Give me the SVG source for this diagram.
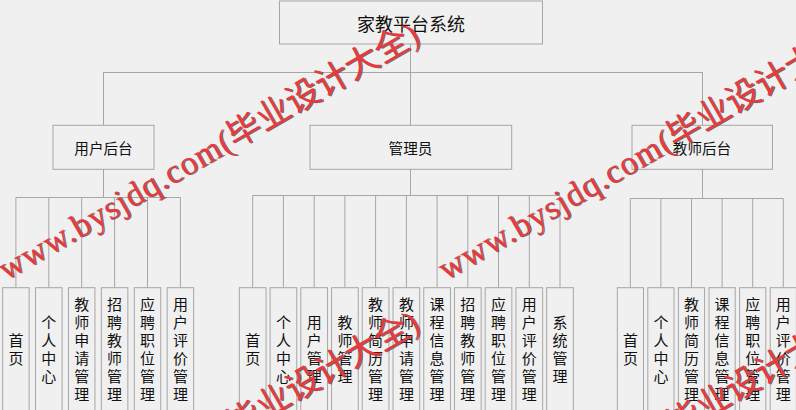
<svg xmlns="http://www.w3.org/2000/svg" xmlns:xlink="http://www.w3.org/1999/xlink" width="796" height="410" viewBox="0 0 796 410">
<style>
.box{fill:#f0f0f0;stroke:#a6a6a6;stroke-width:1}
.ln{fill:none;stroke:#a6a6a6;stroke-width:1}
.t{font-family:"Microsoft YaHei","Noto Sans CJK SC",sans-serif;fill:#111;text-anchor:middle;dominant-baseline:central}
.t18{font-size:18px}
.t15{font-size:14.6px}
.lv{font-size:15px}
.wm{font-family:"Liberation Serif","Noto Sans CJK SC",serif;font-size:34px}
.wl{letter-spacing:1.1px}
.wmr{fill:#e63a3d}
.wms{fill:#5a3a3a;opacity:0.8}
</style>
<defs>
<g id="wm">
<text class="wm wms" x="1" y="1"><tspan class="wl">www.bysjdq.com</tspan>(毕业设计大全)</text>
<text class="wm wmr" x="0" y="0"><tspan class="wl">www.bysjdq.com</tspan>(毕业设计大全)</text>
</g>
</defs>
<rect x="0" y="0" width="796" height="410" fill="#f0f0f0"/>

<g id="connectors">
<path class="ln" d="M410.5 44 V125 M103.5 72.5 H702.5 M103.5 72 V125 M702.5 72 V125"/>
<path class="ln" d="M103.5 169 V197.5 M15.9 197.5 H180.4 M15.9 197.5 V287.7 M48.8 197.5 V287.7 M81.7 197.5 V287.7 M114.6 197.5 V287.7 M147.5 197.5 V287.7 M180.4 197.5 V287.7"/>
<path class="ln" d="M410.5 169 V195.5 M252.7 195.5 H560 M252.7 195.5 V287.7 M283.4 195.5 V287.7 M314.2 195.5 V287.7 M344.9 195.5 V287.7 M375.6 195.5 V287.7 M406.4 195.5 V287.7 M437.1 195.5 V287.7 M467.8 195.5 V287.7 M498.5 195.5 V287.7 M529.3 195.5 V287.7 M560 195.5 V287.7"/>
<path class="ln" d="M702.5 169 V198.5 M630.3 198.5 H783.3 M630.3 198.5 V287.7 M660.9 198.5 V287.7 M691.5 198.5 V287.7 M722.1 198.5 V287.7 M752.7 198.5 V287.7 M783.3 198.5 V287.7"/>
</g>

<g id="root"><rect class="box" x="279.5" y="1" width="263" height="43"/><text class="t t18" x="411" y="22.5">家教平台系统</text></g>
<g id="user"><rect class="box" x="53" y="125.3" width="101" height="44"/><text class="t t15" x="103.5" y="147">用户后台</text></g>
<g id="admin"><rect class="box" x="310" y="125.3" width="201.7" height="44"/><text class="t t15" x="410.5" y="147">管理员</text></g>
<g id="teacher"><rect class="box" x="632" y="125.3" width="140.5" height="44"/><text class="t t15" x="702" y="147">教师后台</text></g>

<g id="u1"><rect class="box" x="2.65" y="287.7" width="26.5" height="130"/><text class="t lv"><tspan x="15.9" y="339.05">首</tspan><tspan x="15.9" y="356.95">页</tspan></text></g>
<g id="u2"><rect class="box" x="35.55" y="287.7" width="26.5" height="130"/><text class="t lv"><tspan x="48.8" y="321.15">个</tspan><tspan x="48.8" y="339.05">人</tspan><tspan x="48.8" y="356.95">中</tspan><tspan x="48.8" y="374.85">心</tspan></text></g>
<g id="u3"><rect class="box" x="68.45" y="287.7" width="26.5" height="130"/><text class="t lv"><tspan x="81.7" y="303.25">教</tspan><tspan x="81.7" y="321.15">师</tspan><tspan x="81.7" y="339.05">申</tspan><tspan x="81.7" y="356.95">请</tspan><tspan x="81.7" y="374.85">管</tspan><tspan x="81.7" y="392.75">理</tspan></text></g>
<g id="u4"><rect class="box" x="101.35" y="287.7" width="26.5" height="130"/><text class="t lv"><tspan x="114.6" y="303.25">招</tspan><tspan x="114.6" y="321.15">聘</tspan><tspan x="114.6" y="339.05">教</tspan><tspan x="114.6" y="356.95">师</tspan><tspan x="114.6" y="374.85">管</tspan><tspan x="114.6" y="392.75">理</tspan></text></g>
<g id="u5"><rect class="box" x="134.25" y="287.7" width="26.5" height="130"/><text class="t lv"><tspan x="147.5" y="303.25">应</tspan><tspan x="147.5" y="321.15">聘</tspan><tspan x="147.5" y="339.05">职</tspan><tspan x="147.5" y="356.95">位</tspan><tspan x="147.5" y="374.85">管</tspan><tspan x="147.5" y="392.75">理</tspan></text></g>
<g id="u6"><rect class="box" x="167.15" y="287.7" width="26.5" height="130"/><text class="t lv"><tspan x="180.4" y="303.25">用</tspan><tspan x="180.4" y="321.15">户</tspan><tspan x="180.4" y="339.05">评</tspan><tspan x="180.4" y="356.95">价</tspan><tspan x="180.4" y="374.85">管</tspan><tspan x="180.4" y="392.75">理</tspan></text></g>

<g id="a1"><rect class="box" x="239.35" y="287.7" width="26.7" height="130"/><text class="t lv"><tspan x="252.7" y="339.05">首</tspan><tspan x="252.7" y="356.95">页</tspan></text></g>
<g id="a2"><rect class="box" x="270.05" y="287.7" width="26.7" height="130"/><text class="t lv"><tspan x="283.4" y="321.15">个</tspan><tspan x="283.4" y="339.05">人</tspan><tspan x="283.4" y="356.95">中</tspan><tspan x="283.4" y="374.85">心</tspan></text></g>
<g id="a3"><rect class="box" x="300.85" y="287.7" width="26.7" height="130"/><text class="t lv"><tspan x="314.2" y="321.15">用</tspan><tspan x="314.2" y="339.05">户</tspan><tspan x="314.2" y="356.95">管</tspan><tspan x="314.2" y="374.85">理</tspan></text></g>
<g id="a4"><rect class="box" x="331.55" y="287.7" width="26.7" height="130"/><text class="t lv"><tspan x="344.9" y="321.15">教</tspan><tspan x="344.9" y="339.05">师</tspan><tspan x="344.9" y="356.95">管</tspan><tspan x="344.9" y="374.85">理</tspan></text></g>
<g id="a5"><rect class="box" x="362.25" y="287.7" width="26.7" height="130"/><text class="t lv"><tspan x="375.6" y="303.25">教</tspan><tspan x="375.6" y="321.15">师</tspan><tspan x="375.6" y="339.05">简</tspan><tspan x="375.6" y="356.95">历</tspan><tspan x="375.6" y="374.85">管</tspan><tspan x="375.6" y="392.75">理</tspan></text></g>
<g id="a6"><rect class="box" x="393.05" y="287.7" width="26.7" height="130"/><text class="t lv"><tspan x="406.4" y="303.25">教</tspan><tspan x="406.4" y="321.15">师</tspan><tspan x="406.4" y="339.05">申</tspan><tspan x="406.4" y="356.95">请</tspan><tspan x="406.4" y="374.85">管</tspan><tspan x="406.4" y="392.75">理</tspan></text></g>
<g id="a7"><rect class="box" x="423.75" y="287.7" width="26.7" height="130"/><text class="t lv"><tspan x="437.1" y="303.25">课</tspan><tspan x="437.1" y="321.15">程</tspan><tspan x="437.1" y="339.05">信</tspan><tspan x="437.1" y="356.95">息</tspan><tspan x="437.1" y="374.85">管</tspan><tspan x="437.1" y="392.75">理</tspan></text></g>
<g id="a8"><rect class="box" x="454.45" y="287.7" width="26.7" height="130"/><text class="t lv"><tspan x="467.8" y="303.25">招</tspan><tspan x="467.8" y="321.15">聘</tspan><tspan x="467.8" y="339.05">教</tspan><tspan x="467.8" y="356.95">师</tspan><tspan x="467.8" y="374.85">管</tspan><tspan x="467.8" y="392.75">理</tspan></text></g>
<g id="a9"><rect class="box" x="485.15" y="287.7" width="26.7" height="130"/><text class="t lv"><tspan x="498.5" y="303.25">应</tspan><tspan x="498.5" y="321.15">聘</tspan><tspan x="498.5" y="339.05">职</tspan><tspan x="498.5" y="356.95">位</tspan><tspan x="498.5" y="374.85">管</tspan><tspan x="498.5" y="392.75">理</tspan></text></g>
<g id="a10"><rect class="box" x="515.95" y="287.7" width="26.7" height="130"/><text class="t lv"><tspan x="529.3" y="303.25">用</tspan><tspan x="529.3" y="321.15">户</tspan><tspan x="529.3" y="339.05">评</tspan><tspan x="529.3" y="356.95">价</tspan><tspan x="529.3" y="374.85">管</tspan><tspan x="529.3" y="392.75">理</tspan></text></g>
<g id="a11"><rect class="box" x="546.65" y="287.7" width="26.7" height="130"/><text class="t lv"><tspan x="560" y="321.15">系</tspan><tspan x="560" y="339.05">统</tspan><tspan x="560" y="356.95">管</tspan><tspan x="560" y="374.85">理</tspan></text></g>

<g id="t1"><rect class="box" x="617.3" y="287.7" width="26.2" height="130"/><text class="t lv"><tspan x="630.4" y="339.05">首</tspan><tspan x="630.4" y="356.95">页</tspan></text></g>
<g id="t2"><rect class="box" x="647.8" y="287.7" width="26.2" height="130"/><text class="t lv"><tspan x="660.9" y="321.15">个</tspan><tspan x="660.9" y="339.05">人</tspan><tspan x="660.9" y="356.95">中</tspan><tspan x="660.9" y="374.85">心</tspan></text></g>
<g id="t3"><rect class="box" x="678.4" y="287.7" width="26.2" height="130"/><text class="t lv"><tspan x="691.5" y="303.25">教</tspan><tspan x="691.5" y="321.15">师</tspan><tspan x="691.5" y="339.05">简</tspan><tspan x="691.5" y="356.95">历</tspan><tspan x="691.5" y="374.85">管</tspan><tspan x="691.5" y="392.75">理</tspan></text></g>
<g id="t4"><rect class="box" x="709" y="287.7" width="26.2" height="130"/><text class="t lv"><tspan x="722.1" y="303.25">课</tspan><tspan x="722.1" y="321.15">程</tspan><tspan x="722.1" y="339.05">信</tspan><tspan x="722.1" y="356.95">息</tspan><tspan x="722.1" y="374.85">管</tspan><tspan x="722.1" y="392.75">理</tspan></text></g>
<g id="t5"><rect class="box" x="739.6" y="287.7" width="26.2" height="130"/><text class="t lv"><tspan x="752.7" y="303.25">应</tspan><tspan x="752.7" y="321.15">聘</tspan><tspan x="752.7" y="339.05">职</tspan><tspan x="752.7" y="356.95">位</tspan><tspan x="752.7" y="374.85">管</tspan><tspan x="752.7" y="392.75">理</tspan></text></g>
<g id="t6"><rect class="box" x="770.2" y="287.7" width="26.2" height="130"/><text class="t lv"><tspan x="783.3" y="303.25">用</tspan><tspan x="783.3" y="321.15">户</tspan><tspan x="783.3" y="339.05">评</tspan><tspan x="783.3" y="356.95">价</tspan><tspan x="783.3" y="374.85">管</tspan><tspan x="783.3" y="392.75">理</tspan></text></g>

<g id="watermarks">
<use xlink:href="#wm" transform="translate(6,281) rotate(-30)"/>
<use xlink:href="#wm" transform="translate(446,281) rotate(-30)"/>
<use xlink:href="#wm" transform="translate(6,569) rotate(-30)"/>
<use xlink:href="#wm" transform="translate(446,569) rotate(-30)"/>
</g>
</svg>
